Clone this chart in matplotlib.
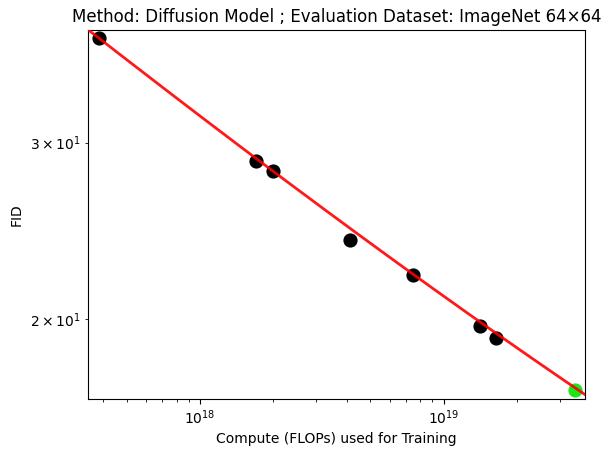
import numpy as np
import matplotlib
matplotlib.use("Agg")
import matplotlib.pyplot as plt

# 训练算力 (FLOPs) 和对应的 FID
compute = [3.83e17, 1.69e18, 2.00e18, 4.13e18, 7.48e18, 1.416e19, 1.637e19]
fid = [38.1, 28.77, 28.1, 23.99, 22.14, 19.70, 19.17]

# 外推点 (绿色)
compute_new = [3.45e19]
fid_new = [17.01]

# 拟合曲线 FID = c + a * (C / 1e18) ** b
fit_a = 28.37
fit_b = -0.2075
fit_c = 3.5

x_range = (3.46e17, 3.81e19)
y_range = (16.68, 38.83)

fig = plt.figure(figsize=(6.12, 4.57), dpi=100)
ax = fig.add_axes([88 / 612, (457 - 398.5) / 457, 497 / 612, 368.5 / 457])

ax.scatter(compute, fid, s=85, color="black", zorder=2)
ax.scatter(compute_new, fid_new, s=85, color=(0.1, 0.9, 0.1), zorder=2)

xs = np.logspace(np.log10(x_range[0]) - 0.05, np.log10(x_range[1]) + 0.05, 200)
ys = fit_c + fit_a * (xs / 1e18) ** fit_b
ax.plot(xs, ys, color="red", alpha=0.9, linewidth=2, zorder=3)

ax.set_xscale("log")
ax.set_yscale("log")
ax.set_xlim(*x_range)
ax.set_ylim(*y_range)

ax.set_title("Method: Diffusion Model ; Evaluation Dataset: ImageNet 64×64")
ax.set_xlabel("Compute (FLOPs) used for Training")
ax.set_ylabel("FID")

plt.savefig("out.png", dpi=100)
